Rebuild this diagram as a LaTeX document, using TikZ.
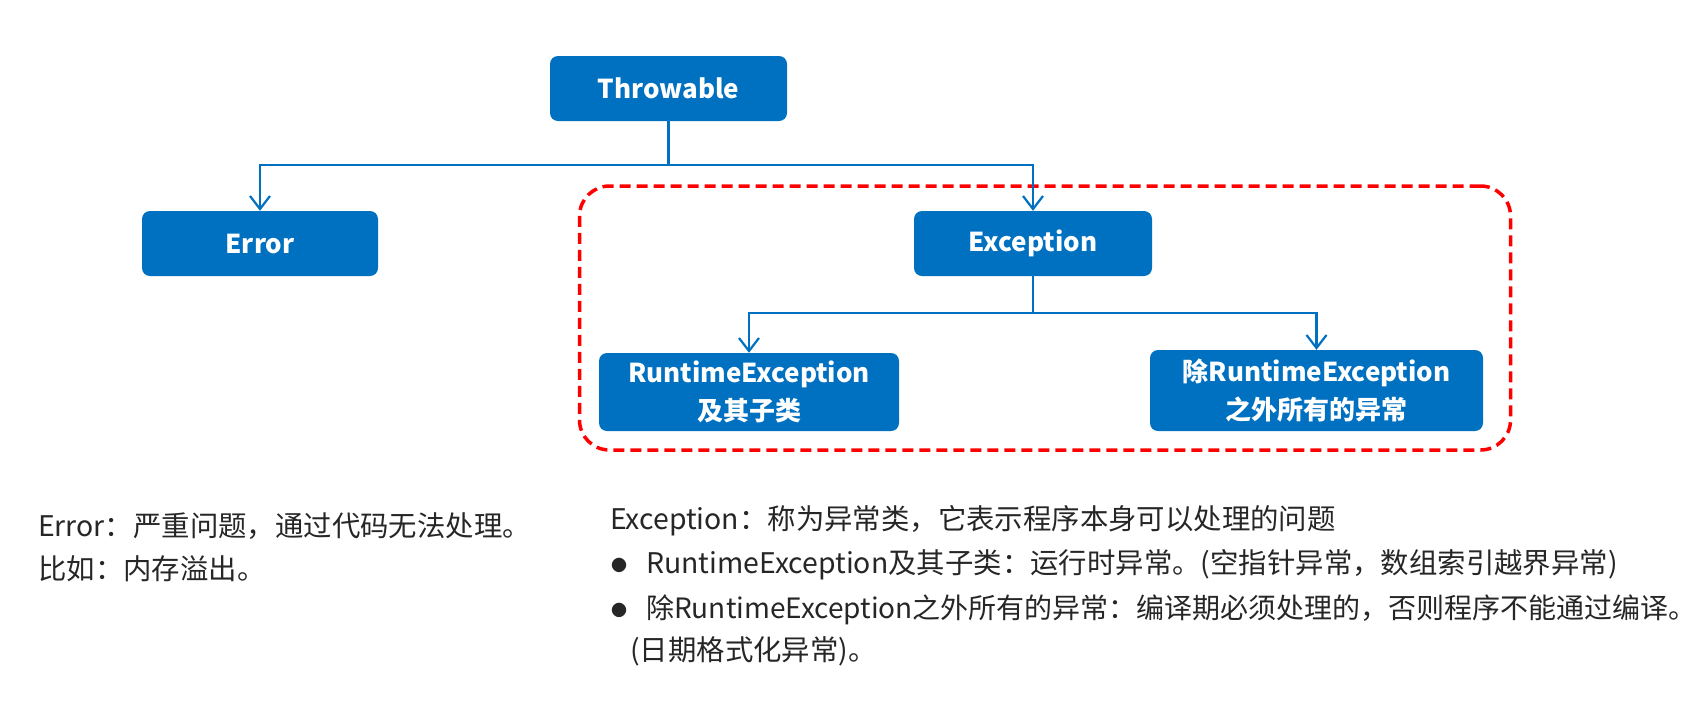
\documentclass[tikz,border=0pt]{standalone}
\usepackage{fontspec}
\setmainfont{Noto Sans CJK SC}
\usetikzlibrary{arrows.meta}
\definecolor{boxblue}{HTML}{0070C0}
\definecolor{dashred}{HTML}{FF0000}
\definecolor{txt}{HTML}{262626}
\begin{document}
\begin{tikzpicture}[x=1pt,y=-1pt,
  box/.style={fill=boxblue, rounded corners=8pt, text=white, font=\bfseries\fontsize{26}{38}\selectfont, align=center, inner sep=0pt},
  conn/.style={draw=boxblue, line width=2.2pt, -{Straight Barb[length=13pt,width=20pt,line width=2.2pt]}},
  grpbox/.style={draw=dashred, line width=3.5pt, dash pattern=on 11pt off 6pt, rounded corners=30pt, inner sep=0pt},
  note/.style={anchor=west, text=txt, font=\fontsize{28.4}{32}\selectfont, inner sep=0pt},
  bul/.style={text=txt, font=\fontsize{16}{16}\selectfont, inner sep=0pt}]
\useasboundingbox (0,0) rectangle (1694,705);
\node[grpbox, minimum width=931pt, minimum height=264pt] (grp) at (1045,318) {};
\node[box, minimum width=237pt, minimum height=65pt] (thr) at (668.5,88.5) {Throwable};
\node[box, minimum width=236pt, minimum height=65pt] (err) at (260,243.5) {Error};
\node[box, minimum width=238pt, minimum height=65pt] (exc) at (1033,243.5) {Exception};
\node[box, minimum width=300pt, minimum height=78pt] (rt) at (749,392) {RuntimeException\\及其子类};
\node[box, minimum width=333pt, minimum height=81pt] (oth) at (1316.5,390.5) {除RuntimeException\\之外所有的异常};
\coordinate (bus1) at (0,165);
\coordinate (bus2) at (0,313);
\draw[conn] (thr.south) -- (thr.south |- bus1) -| (err.north);
\draw[conn] (thr.south) -- (thr.south |- bus1) -| (exc.north);
\draw[conn] (exc.south) -- (exc.south |- bus2) -| (rt.north);
\draw[conn] (exc.south) -- (exc.south |- bus2) -| (oth.north);
\node[note] (n1) at (38,526) {Error：严重问题，通过代码无法处理。};
\node[note] (n2) at (38,569) {比如：内存溢出。};
\node[note] (n3) at (610,521) {Exception：称为异常类，它表示程序本身可以处理的问题};
\node[bul] (b1) at (619,565) {●};
\node[note] (n4) at (646,565) {RuntimeException及其子类：运行时异常。(空指针异常，数组索引越界异常)};
\node[bul] (b2) at (619,610) {●};
\node[note, font=\fontsize{28}{32}\selectfont] (n5) at (646,610) {除RuntimeException之外所有的异常：编译期必须处理的，否则程序不能通过编译。};
\node[note] (n6) at (630,651) {(日期格式化异常)。};
\end{tikzpicture}
\end{document}
